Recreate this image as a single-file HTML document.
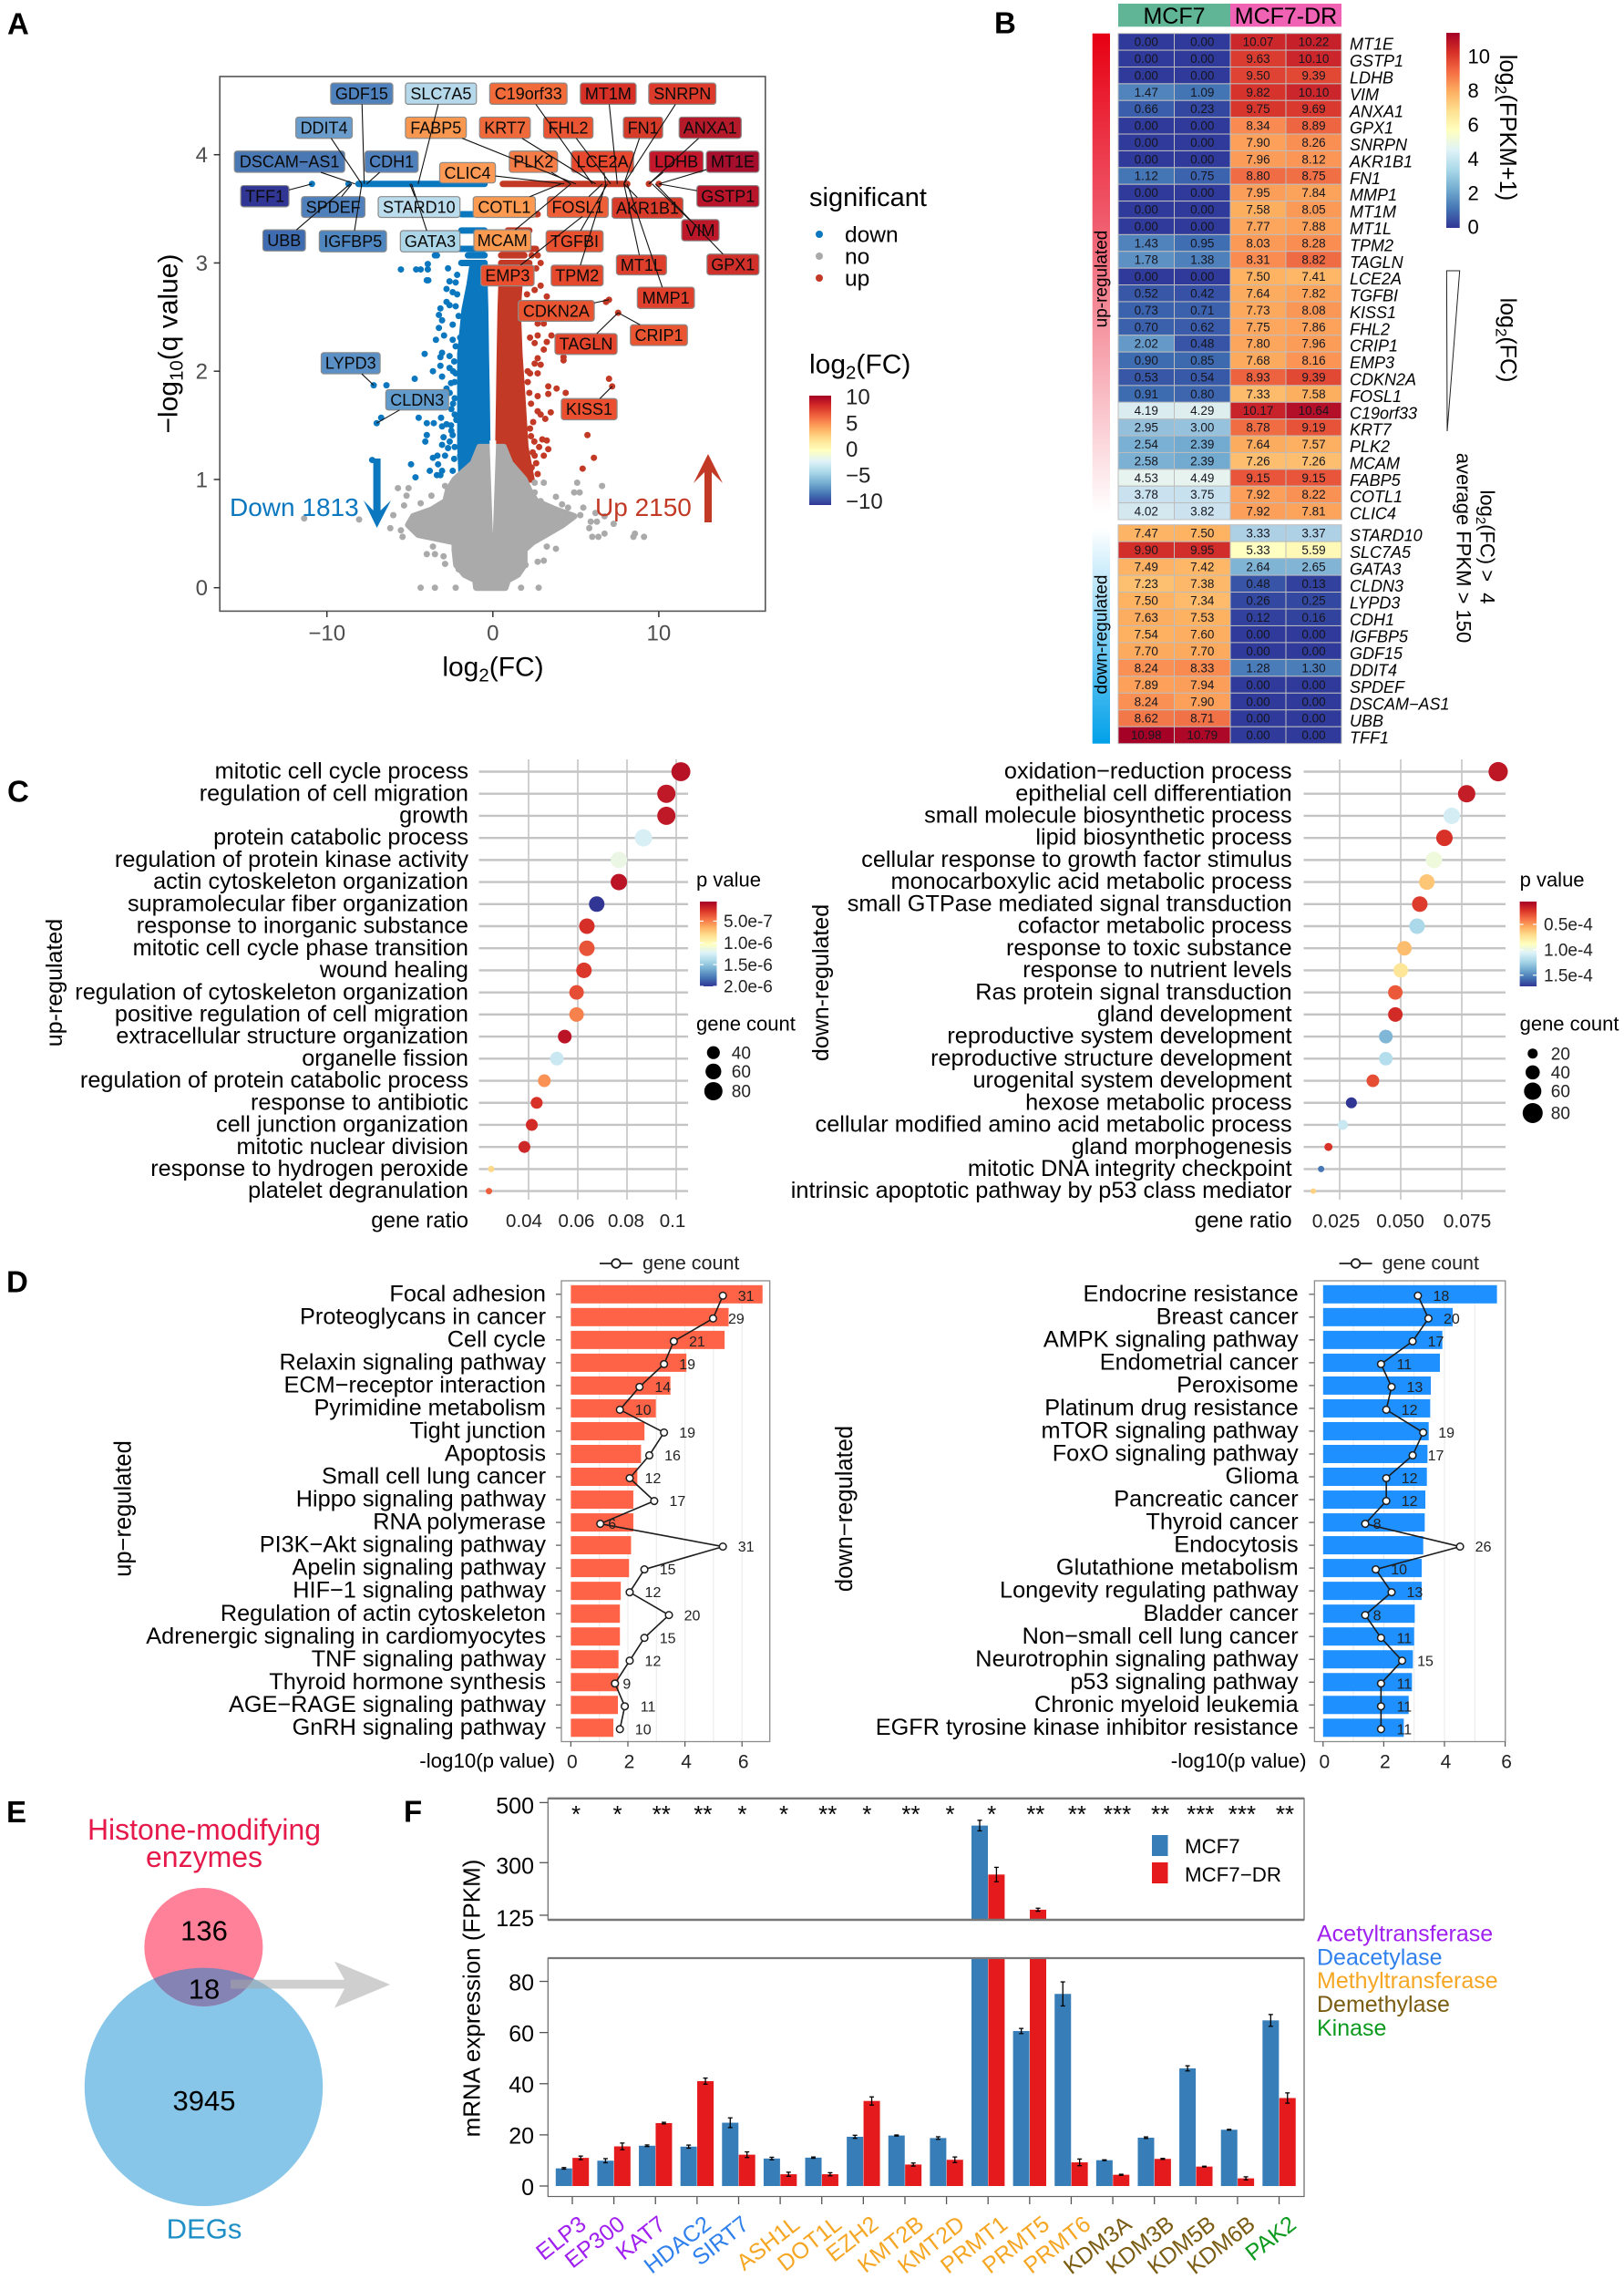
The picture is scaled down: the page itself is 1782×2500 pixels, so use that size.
<!DOCTYPE html>
<html lang="en">
<head>
<meta charset="utf-8">
<title>Multi-panel figure: MCF7 vs MCF7-DR differential expression</title>
<style>
html,body{margin:0;padding:0;background:#fff;}
svg{display:block;font-family:"Liberation Sans",Arial,sans-serif;}
</style>
</head>
<body>
<svg id="figure" xmlns="http://www.w3.org/2000/svg" width="1782" height="2500" viewBox="0 0 1782 2500">
  <rect x="0" y="0" width="1782" height="2500" fill="#fff"/>
  <defs>
    <linearGradient id="gradUp" x1="0" y1="0" x2="0" y2="1"><stop offset="0" stop-color="#e60012"/><stop offset="0.45" stop-color="#f1697a"/><stop offset="1" stop-color="#ffffff"/></linearGradient>
    <linearGradient id="gradDown" x1="0" y1="0" x2="0" y2="1"><stop offset="0" stop-color="#ffffff"/><stop offset="1" stop-color="#00a0e9"/></linearGradient>
    <clipPath id="pinkClip"><circle cx="223.4" cy="2136" r="65"/></clipPath>
  </defs>
  <g id="panelA"></g>
  <g id="panelB"></g>
  <g id="panelC"></g>
  <g id="panelD"></g>
  <g id="panelE">
    <text x="7" y="1999" font-size="33" font-weight="bold">E</text>
    <text x="224" y="2018" font-size="32" fill="#e6194b" text-anchor="middle">Histone-modifying</text>
    <text x="224" y="2048" font-size="32" fill="#e6194b" text-anchor="middle">enzymes</text>
    <circle cx="223.5" cy="2289.3" r="130.7" fill="#87c6e8"/>
    <circle cx="223.4" cy="2136" r="65" fill="#ff8099"/>
    <circle cx="223.5" cy="2289.3" r="130.7" fill="#8582b4" clip-path="url(#pinkClip)"/>
    <polygon points="253,2171.7 378,2171.7 367,2151.7 428,2177 367,2202.5 378,2181.5 253,2181.5" fill="#a8a8a8" fill-opacity="0.55"/>
    <text x="224" y="2128.5" font-size="31" text-anchor="middle">136</text>
    <text x="224" y="2192.5" font-size="31" text-anchor="middle">18</text>
    <text x="224" y="2315" font-size="31" text-anchor="middle">3945</text>
    <text x="224" y="2455.5" font-size="31" fill="#1e8fc6" text-anchor="middle">DEGs</text>
  </g>
  <g id="panelF"></g>
</svg>
<script>
/* ---------- Panel A data ---------- */
const volcanoXTicks = [-10, 0, 10];
const volcanoYTicks = [0, 1, 2, 3, 4];
const labelledGenes = ['GDF15','SLC7A5','C19orf33','MT1M','SNRPN','DDIT4','FABP5','KRT7','FHL2','FN1','ANXA1','DSCAM-AS1','CDH1','PLK2','LCE2A','LDHB','MT1E','TFF1','GSTP1','CLIC4','SPDEF','STARD10','COTL1','FOSL1','AKR1B1','VIM','UBB','IGFBP5','GATA3','MCAM','TGFBI','GPX1','MT1L','EMP3','TPM2','MMP1','CDKN2A','CRIP1','TAGLN','LYPD3','CLDN3','KISS1'];
const labelledFC = [-7.75,-4.5,6.0,7.5,7.9,-7.9,5.0,6.2,7.1,7.9,9.4,-8.3,-7.6,4.7,6.8,9.4,10,-10.9,10,4.3,-8.5,-5,4.1,6.6,7.9,9.6,-8.6,-7.9,-4.9,4.7,6.9,9.8,7.9,5.4,6.8,8.1,7.0,7.55,7.55,-7.18,-7.0,7.19];
const labelledQ = [3.73,3.73,3.73,3.73,3.73,3.73,3.73,3.73,3.73,3.73,3.73,3.73,3.73,3.73,3.73,3.73,3.73,3.73,3.73,3.73,3.73,3.73,3.73,3.73,3.73,3.73,3.73,3.73,3.73,3.73,3.73,3.73,3.73,3.43,3.73,3.73,2.66,2.54,2.54,1.87,1.52,1.86];
const labelColors = ['#4f81bd','#b5d9ea','#f26b3a','#d73027','#dc3a2a','#6a9ccc','#f89850','#f0693a','#e95532','#d63a28','#b51a2b','#4a78b5','#4f80bc','#f57c46','#e7482e','#c5172c','#a50e2c','#313695','#b8152b','#fd9a55','#4f80bc','#bbdcec','#fb9a50','#ee5f38','#d93b2a','#bc1829','#3f6cb0','#5086c0','#add5e8','#fa9950','#e85030','#d1302a','#dd3f2c','#ea5030','#e4492e','#e0412c','#ea5531','#ea5531','#e4462d','#5b90c6','#629ccd','#ea5030'];
const labelBoxLayout = [[522,620,188,236],[640,752,188,236],[773,895,188,236],[916,1004,188,236],[1024,1130,188,236],[467,556,265,313],[640,736,265,313],[757,837,265,313],[858,936,265,313],[984,1046,265,313],[1072,1170,265,313],[370,544,342,390],[576,660,342,390],[804,880,342,390],[902,1000,342,390],[1025,1110,342,390],[1115,1198,342,390],[380,456,420,468],[1100,1198,420,468],[694,782,368,414],[476,576,445,492],[597,726,445,492],[747,845,445,492],[864,960,445,492],[966,1078,447,494],[1076,1135,497,545],[415,482,520,568],[504,610,522,570],[632,726,522,570],[748,838,520,568],[862,952,522,570],[1116,1198,575,622],[973,1052,577,622],[759,843,600,647],[870,952,600,647],[1006,1096,650,698],[818,938,680,727],[995,1085,735,782],[876,974,755,802],[507,600,798,846],[609,708,882,928],[886,974,902,950]];
const downRowQ = [1.0,1.3,1.75,2.16,2.57,2.8,3.0];
const downRowLeft = [-1.87,-1.96,-1.96,-1.96,-1.7,-1.4,-1.2];
const downRowRight = [-0.33,-0.33,-0.37,-0.42,-0.46,-0.5,-0.5];
const upRowQ = [1.0,1.3,1.75,2.16,2.57,2.8,3.0];
const upRowLeft = [0.33,0.33,0.38,0.42,0.47,0.52,0.52];
const upRowRight = [2.33,1.96,1.78,1.6,1.5,1.6,1.5];
const noRowQ = [0,0.07,0.12,0.21,0.35,0.42,0.49,0.58,0.66,0.72,0.8,0.9,1.0,1.15,1.3];
const noRowLeft = [-1.0,-1.05,-1.7,-2.2,-2.3,-2.3,-4.5,-5.1,-4.8,-3.7,-2.85,-2.7,-2.3,-1.2,-0.8];
const noRowRight = [0.75,0.9,1.5,1.9,1.9,2.4,3.2,4.2,4.9,3.8,2.6,2.2,1.9,1.05,0.65];
const downBandQ = [3.73,3.45,3.3,3.13,3.07,3.0];
const downBandLeft = [-8.1,-1.9,-1.9,-2.0,-1.5,-1.9];
const downBandRight = [-0.5,-0.5,-0.5,-0.5,-0.5,-0.5];
const upBandQ = [3.73,3.45,3.3,3.13,3.07,3.0];
const upBandLeft = [0.6,0.9,0.9,0.5,0.5,0.5];
const upBandRight = [8.1,2.7,2.2,2.6,1.9,2.2];
const downPointFC = [-5.54,-4.62,-4.35,-3.92,-3.92,-3.98,-3.89,-3.37,-3.49,-2.7,-2.15,-2.24,-2.61,-2.79,-2.42,-2.15,-2.79,-3.16,-3.25,-2.61,-2.24,-2.06,-2.42,-3.06,-3.25,-2.94,-3.43,-2.42,-1.97,-2.24,-2.61,-3.06,-3.16,-4.11,-2.33,-3.16,-2.61,-3.61,-2.24,-4.71,-3.06,-2.52,-2.79,-6.41,-7.18,-6.73,-7.0,-4.47,-3.98,-3.56,-3.12,-2.79,-3.06,-2.52,-3.98,-4.07,-2.97,-2.42,-3.06,-2.7,-2.88,-3.34,-3.61,-2.33,-1.97,-3.3,-3.06,-3.37,-3.16,-3.8,-4.93,-4.66,-2.42,-1.97,-1.42,-1.87,-1.33,-0.87,-1.05,-7.27,-2.3,-2.4,-2.5,-2.6,-2.3,-2.2,-2.5,-2.6,-2.3,-2.4,-2.3,-10.9,-8.7];
const downPointQ = [2.94,2.94,2.94,2.99,2.94,2.84,2.84,3.07,3.07,2.95,2.89,2.82,2.83,2.76,2.73,2.71,2.64,2.58,2.52,2.61,2.6,2.51,2.43,2.47,2.4,2.33,2.29,2.29,2.31,2.23,2.14,2.17,2.13,2.16,2.09,2.05,2.03,2.0,1.98,1.93,1.95,1.89,1.84,1.87,1.87,1.57,1.52,1.57,1.52,1.52,1.57,1.51,1.49,1.5,1.41,1.35,1.39,1.41,1.32,1.29,1.22,1.22,1.2,1.19,1.22,1.14,1.08,1.04,1.04,1.08,1.14,1.02,1.08,1.02,1.02,1.13,1.11,1.04,1.19,1.18,1.75,1.7,1.65,1.8,1.6,1.55,1.45,1.35,1.3,2.0,1.9,3.73,3.73];
const upPointFC = [2.7,2.34,2.88,2.61,2.88,2.52,3.25,2.06,7.0,6.82,7.55,2.7,3.07,3.53,2.7,2.52,3.25,3.07,2.24,2.7,2.88,2.52,4.26,4.26,2.24,2.7,7.0,7.19,3.34,3.84,4.39,3.34,2.7,2.7,3.49,3.16,2.88,2.43,2.24,2.98,3.25,2.79,3.34,3.07,2.52,2.61,2.34,2.7,2.24,1.7,1.05,1.6,5.7,6.09,5.41,2.1,2.2,2.3,2.1,2.3,2.5,2.4,9.4,10];
const upPointQ = [3.07,3.07,3.0,2.95,2.79,2.75,2.69,2.71,2.66,2.64,2.54,2.44,2.44,2.33,2.33,2.26,2.27,2.2,2.31,2.12,2.06,2.07,2.1,2.13,1.98,1.98,1.93,1.86,1.86,1.84,1.8,1.79,1.77,1.63,1.62,1.56,1.6,1.53,1.47,1.37,1.36,1.3,1.28,1.22,1.22,1.15,1.11,1.05,1.02,0.99,1.02,1.08,1.41,1.2,1.1,1.9,1.8,1.7,2.0,1.4,1.35,1.25,3.73,3.73];
const noPointFC = [-4.35,-3.49,-2.24,1.7,2.76,-5.72,-5.08,-5.2,-3.7,-2.88,-4.35,-5.35,-6,-8.06,-6.18,-5.54,-5.44,-3.61,-3.98,-3.49,-2.97,-2.88,-2.06,1.97,2.7,3.07,3.25,3.8,2.52,3.07,2.52,3.8,2.88,5.08,4.9,5.23,6.58,5.45,6.18,6.73,5.9,6.27,7.28,5.81,6.73,6.36,5.99,8.56,9.11,8.47,5.27,4.53,4.17,-11.37];
const noPointQ = [0,0,0,0,0,0.92,0.92,0.85,0.85,0.94,0.78,0.76,0.67,0.63,0.55,0.53,0.47,0.38,0.31,0.31,0.29,0.22,0.17,0.21,0.24,0.25,0.38,0.36,0.97,0.97,0.88,0.84,0.8,0.97,0.88,0.88,0.94,0.74,0.69,0.66,0.61,0.61,0.59,0.55,0.5,0.47,0.47,0.5,0.47,0.47,0.67,0.74,0.77,0.64];
const sigLegendNames = ['down','no','up'];
const fcBarTicks = [10,5,0,-5,-10];

/* ---------- Panel B data ---------- */
const heatUpGenes = ['MT1E','GSTP1','LDHB','VIM','ANXA1','GPX1','SNRPN','AKR1B1','FN1','MMP1','MT1M','MT1L','TPM2','TAGLN','LCE2A','TGFBI','KISS1','FHL2','CRIP1','EMP3','CDKN2A','FOSL1','C19orf33','KRT7','PLK2','MCAM','FABP5','COTL1','CLIC4'];
const heatUpMcf7A = [0,0,0,1.47,0.66,0,0,0,1.12,0,0,0,1.43,1.78,0,0.52,0.73,0.70,2.02,0.90,0.53,0.91,4.19,2.95,2.54,2.58,4.53,3.78,4.02];
const heatUpMcf7B = [0,0,0,1.09,0.23,0,0,0,0.75,0,0,0,0.95,1.38,0,0.42,0.71,0.62,0.48,0.85,0.54,0.80,4.29,3.00,2.39,2.39,4.49,3.75,3.82];
const heatUpDrA = [10.07,9.63,9.50,9.82,9.75,8.34,7.90,7.96,8.80,7.95,7.58,7.77,8.03,8.31,7.50,7.64,7.73,7.75,7.80,7.68,8.93,7.33,10.17,8.78,7.64,7.26,9.15,7.92,7.92];
const heatUpDrB = [10.22,10.10,9.39,10.10,9.69,8.89,8.26,8.12,8.75,7.84,8.05,7.88,8.28,8.82,7.41,7.82,8.08,7.86,7.96,8.16,9.39,7.58,10.64,9.19,7.57,7.26,9.15,8.22,7.81];
const heatDownGenes = ['STARD10','SLC7A5','GATA3','CLDN3','LYPD3','CDH1','IGFBP5','GDF15','DDIT4','SPDEF','DSCAM\u2212AS1','UBB','TFF1'];
const heatDownMcf7A = [7.47,9.90,7.49,7.23,7.50,7.63,7.54,7.70,8.24,7.89,8.24,8.62,10.98];
const heatDownMcf7B = [7.50,9.95,7.42,7.38,7.34,7.53,7.60,7.70,8.33,7.94,7.90,8.71,10.79];
const heatDownDrA = [3.33,5.33,2.64,0.48,0.26,0.12,0,0,1.28,0,0,0,0];
const heatDownDrB = [3.37,5.59,2.65,0.13,0.25,0.16,0,0,1.30,0,0,0,0];
const heatBarTicks = [10,8,6,4,2,0];

/* ---------- Panel C data ---------- */
const goUpTerms = ['mitotic cell cycle process','regulation of cell migration','growth','protein catabolic process','regulation of protein kinase activity','actin cytoskeleton organization','supramolecular fiber organization','response to inorganic substance','mitotic cell cycle phase transition','wound healing','regulation of cytoskeleton organization','positive regulation of cell migration','extracellular structure organization','organelle fission','regulation of protein catabolic process','response to antibiotic','cell junction organization','mitotic nuclear division','response to hydrogen peroxide','platelet degranulation'];
const goUpRatio = [0.1019,0.096,0.096,0.0867,0.0767,0.0767,0.0677,0.0637,0.0637,0.0625,0.0595,0.0595,0.0547,0.0515,0.0464,0.0433,0.0413,0.0383,0.0248,0.0239];
const goUpCount = [87,80,80,72,65,65,58,58,58,58,51,51,45,45,39,34,34,34,10,10];
const goUpP = [1.2e-7,1.5e-7,1.5e-7,1.25e-6,1.15e-6,1.3e-7,2.0e-6,2.4e-7,3.6e-7,2.7e-7,3.4e-7,5e-7,1.3e-7,1.3e-6,5.5e-7,2.5e-7,2.2e-7,2.1e-7,8e-7,4e-7];
const goUpTickValues = [0.04,0.06,0.08,0.1];
const goUpTickLabels = ['0.04','0.06','0.08','0.1'];
const goUpColorTicks = ['5.0e-7','1.0e-6','1.5e-6','2.0e-6'];
const goUpColorTickValues = [5e-7,1e-6,1.5e-6,2e-6];
const goUpSizeLegend = [40,60,80];
const goDownTerms = ['oxidation\u2212reduction process','epithelial cell differentiation','small molecule biosynthetic process','lipid biosynthetic process','cellular response to growth factor stimulus','monocarboxylic acid metabolic process','small GTPase mediated signal transduction','cofactor metabolic process','response to toxic substance','response to nutrient levels','Ras protein signal transduction','gland development','reproductive system development','reproductive structure development','urogenital system development','hexose metabolic process','cellular modified amino acid metabolic process','gland morphogenesis','mitotic DNA integrity checkpoint','intrinsic apoptotic pathway by p53 class mediator'];
const goDownRatio = [0.0899,0.0770,0.0709,0.0679,0.0636,0.0607,0.0578,0.0567,0.0515,0.05,0.0478,0.0478,0.0439,0.0439,0.0386,0.0298,0.0263,0.0204,0.0174,0.0142];
const goDownCount = [74,60,54,54,54,48,48,48,42,42,42,42,37,37,32,24,20,13,8,6];
const goDownP = [1.3e-5,1.5e-5,1.09e-4,2.2e-5,9.7e-5,6.3e-5,2.5e-5,1.22e-4,6e-5,7.5e-5,3.3e-5,2e-5,1.35e-4,1.19e-4,3e-5,1.72e-4,1.12e-4,2.2e-5,1.55e-4,6.7e-5];
const goDownTickValues = [0.025,0.05,0.075];
const goDownTickLabels = ['0.025','0.050','0.075'];
const goDownColorTicks = ['0.5e-4','1.0e-4','1.5e-4'];
const goDownColorTickValues = [5e-5,1e-4,1.5e-4];
const goDownSizeLegend = [20,40,60,80];

/* ---------- Panel D data ---------- */
const keggUpTerms = ['Focal adhesion','Proteoglycans in cancer','Cell cycle','Relaxin signaling pathway','ECM\u2212receptor interaction','Pyrimidine metabolism','Tight junction','Apoptosis','Small cell lung cancer','Hippo signaling pathway','RNA polymerase','PI3K\u2212Akt signaling pathway','Apelin signaling pathway','HIF\u22121 signaling pathway','Regulation of actin cytoskeleton','Adrenergic signaling in cardiomyocytes','TNF signaling pathway','Thyroid hormone synthesis','AGE\u2212RAGE signaling pathway','GnRH signaling pathway'];
const keggUpValues = [6.72,5.53,5.39,4.05,3.49,2.98,2.58,2.46,2.33,2.19,2.19,2.11,2.04,1.75,1.72,1.72,1.67,1.67,1.65,1.49];
const keggUpCounts = [31,29,21,19,14,10,19,16,12,17,6,31,15,12,20,15,12,9,11,10];
const keggDownTerms = ['Endocrine resistance','Breast cancer','AMPK signaling pathway','Endometrial cancer','Peroxisome','Platinum drug resistance','mTOR signaling pathway','FoxO signaling pathway','Glioma','Pancreatic cancer','Thyroid cancer','Endocytosis','Glutathione metabolism','Longevity regulating pathway','Bladder cancer','Non\u2212small cell lung cancer','Neurotrophin signaling pathway','p53 signaling pathway','Chronic myeloid leukemia','EGFR tyrosine kinase inhibitor resistance'];
const keggDownValues = [5.73,4.27,3.93,3.85,3.55,3.53,3.48,3.44,3.42,3.37,3.35,3.3,3.25,3.25,3.02,3.0,2.96,2.93,2.82,2.66];
const keggDownCounts = [18,20,17,11,13,12,19,17,12,12,8,26,10,13,8,11,15,11,11,11];
const keggTicks = [0,2,4,6];

/* ---------- Panel F data ---------- */
const enzymeGenes = ['ELP3','EP300','KAT7','HDAC2','SIRT7','ASH1L','DOT1L','EZH2','KMT2B','KMT2D','PRMT1','PRMT5','PRMT6','KDM3A','KDM3B','KDM5B','KDM6B','PAK2'];
const enzymeClass = [0,0,0,1,1,2,2,2,2,2,2,2,2,3,3,3,3,4];
const enzymeMcf7 = [6.9,9.9,15.75,15.4,24.75,10.75,11.1,19.25,19.75,18.75,423.5,60.6,75.1,10.1,18.9,46,22,64.75];
const enzymeDr = [11,15.5,24.6,41,12.25,4.6,4.6,33.25,8.4,10.25,260.5,143.4,9.25,4.4,10.6,7.6,3,34.4];
const enzymeMcf7Err = [0.3,0.8,0.3,0.6,1.9,0.5,0.25,0.6,0.2,0.5,17.6,1.0,4.7,0.15,0.3,1.0,0.15,2.3];
const enzymeDrErr = [0.7,1.3,0.3,1.2,1.1,0.8,0.6,1.6,0.6,1.1,24,5,1.3,0.2,0.2,0.15,0.6,2];
const enzymeStars = ['*','*','**','**','*','*','**','*','**','*','*','**','**','***','**','***','***','**'];
const enzymeLowerTicks = [0,20,40,60,80];
const enzymeUpperTicks = [125,300,500];
const classNames = ['Acetyltransferase','Deacetylase','Methyltransferase','Demethylase','Kinase'];
const classColors = ['#a020f0','#2f80ed','#f5a623','#7a5c12','#0c9a1e'];
const enzymeLabelNudge = [11.5,8.4,7.4,11.7,7.6,17.6,18,12.7,17,16.3,17.7,18,17.7,17,18,17.7,15.6,15];

/* ---------- helpers ---------- */
const NS = 'http://www.w3.org/2000/svg';
const svg = document.getElementById('figure');
function make(tag, attrs, name, parent) {
  const node = document.createElementNS(NS, tag);
  for (const key in attrs) node.setAttribute(key, attrs[key]);
  
  
  parent.appendChild(node);
  return node;
}
function label(parent, name, str, x, y, size, opts) {
  const o = opts || {};
  const v = o.v === undefined ? 0.35 : o.v;
  const attrs = {x: x, y: y + size * v, 'font-size': size, fill: o.fill || '#000', 'text-anchor': o.anchor || 'start'};
  if (o.weight) attrs['font-weight'] = o.weight;
  if (o.italic) attrs['font-style'] = 'italic';
  if (o.rotate !== undefined) attrs.transform = 'rotate(' + o.rotate + ' ' + x + ' ' + y + ')';
  const node = make('text', attrs, name, parent);
  node.textContent = str;
  return node;
}
function subLabel(parent, name, a, sub, b, x, y, size, opts) {
  const o = opts || {};
  const node = label(parent, name, '', x, y, size, o);
  const t1 = document.createElementNS(NS, 'tspan'); t1.textContent = a;
  const t2 = document.createElementNS(NS, 'tspan'); t2.textContent = sub;
  t2.setAttribute('font-size', size * 0.68); t2.setAttribute('dy', size * 0.2);
  const t3 = document.createElementNS(NS, 'tspan'); t3.textContent = b;
  t3.setAttribute('dy', -size * 0.2);
  node.appendChild(t1); node.appendChild(t2); node.appendChild(t3);
  return node;
}
function line(parent, name, x1, y1, x2, y2, color, w) {
  return make('line', {x1: x1, y1: y1, x2: x2, y2: y2, stroke: color, 'stroke-width': w}, name, parent);
}
const divergingStops = ['#a50026','#d73027','#f46d43','#fdae61','#fee090','#ffffbf','#e0f3f8','#abd9e9','#74add1','#4575b4','#313695'];
function hexToRgb(h) { return [parseInt(h.slice(1,3),16), parseInt(h.slice(3,5),16), parseInt(h.slice(5,7),16)]; }
function mix(a, b, t) { const A = hexToRgb(a), B = hexToRgb(b); return 'rgb(' + A.map((c, i) => Math.round(c + (B[i] - c) * t)).join(',') + ')'; }
function diverging(t) {
  const c = Math.max(0, Math.min(1, t)) * 10;
  const i = Math.min(9, Math.floor(c));
  return mix(divergingStops[i], divergingStops[i + 1], c - i);
}
function addGradient(id, stops) {
  const defs = svg.querySelector('defs');
  const g = document.createElementNS(NS, 'linearGradient');
  g.setAttribute('id', id);
  g.setAttribute('x1', '0'); g.setAttribute('y1', '0'); g.setAttribute('x2', '0'); g.setAttribute('y2', '1');
  stops.forEach((c, i) => {
    const s = document.createElementNS(NS, 'stop');
    s.setAttribute('offset', i / (stops.length - 1));
    s.setAttribute('stop-color', c);
    g.appendChild(s);
  });
  defs.appendChild(g);
}
addGradient('gradDiverging', divergingStops);
function hexEnvelope(parent, name, qs, lefts, rights, fx, fy, color) {
  const pts = [];
  qs.forEach((q, i) => pts.push(fx(lefts[i]) + ',' + fy(q)));
  for (let i = qs.length - 1; i >= 0; i--) pts.push(fx(rights[i]) + ',' + fy(qs[i]));
  return make('polygon', {points: pts.join(' '), fill: color, stroke: color, 'stroke-width': 7, 'stroke-linejoin': 'round'}, name, parent);
}

/* ---------- Panel A ---------- */
(function () {
  const g = document.getElementById('panelA');
  const vx = v => 540.8 + 18.21 * v;
  const vy = q => 644.7 - 118.75 * q;
  const BLUE = '#0b77bf', RED = '#c23a26', GREY = '#aaaaaa';
  label(g, 'panel-letter-a', 'A', 8, 26, 33, {weight: 'bold'});
  hexEnvelope(g, 'down-points-dense', downRowQ, downRowLeft, downRowRight, vx, vy, BLUE);
  hexEnvelope(g, 'up-points-dense', upRowQ, upRowLeft, upRowRight, vx, vy, RED);
  downBandQ.forEach((q, i) => {
    const n = make('line', {x1: vx(downBandLeft[i]), y1: vy(q), x2: vx(downBandRight[i]), y2: vy(q), stroke: BLUE, 'stroke-width': 7, 'stroke-linecap': 'round'}, 'down-points-band', g);
    n.setAttribute('data-q', q);
  });
  upBandQ.forEach((q, i) => {
    const n = make('line', {x1: vx(upBandLeft[i]), y1: vy(q), x2: vx(upBandRight[i]), y2: vy(q), stroke: RED, 'stroke-width': 7, 'stroke-linecap': 'round'}, 'up-points-band', g);
    n.setAttribute('data-q', q);
  });
  downPointFC.forEach((fc, i) => make('circle', {cx: vx(fc), cy: vy(downPointQ[i]), r: 3.5, fill: BLUE}, 'down-point', g));
  upPointFC.forEach((fc, i) => make('circle', {cx: vx(fc), cy: vy(upPointQ[i]), r: 3.5, fill: RED}, 'up-point', g));
  hexEnvelope(g, 'not-significant-points-dense', noRowQ, noRowLeft, noRowRight, vx, vy, GREY);
  noPointFC.forEach((fc, i) => make('circle', {cx: vx(fc), cy: vy(noPointQ[i]), r: 3.5, fill: GREY}, 'not-significant-point', g));
  make('polygon', {points: vx(-0.2) + ',' + vy(1.36) + ' ' + vx(0.2) + ',' + vy(1.36) + ' ' + vx(0) + ',' + vy(0.5), fill: '#fff'}, 'volcano-center-gap', g);

  make('rect', {x: 241.2, y: 83.9, width: 598.6, height: 586.5, fill: 'none', stroke: '#555', 'stroke-width': 1.6}, 'volcano-frame', g);
  volcanoXTicks.forEach(t => {
    line(g, 'x-axis-tick', vx(t), 670.4, vx(t), 677, '#333', 1.5);
    label(g, 'x-tick-label', t < 0 ? '\u2212' + Math.abs(t) : String(t), vx(t), 694, 24, {anchor: 'middle', fill: '#4d4d4d'});
  });
  volcanoYTicks.forEach(t => {
    line(g, 'y-axis-tick', 234.6, vy(t), 241.2, vy(t), '#333', 1.5);
    label(g, 'y-tick-label', String(t), 228, vy(t), 24, {anchor: 'end', fill: '#4d4d4d'});
  });
  subLabel(g, 'x-axis-title', 'log', '2', '(FC)', 541, 731, 30, {anchor: 'middle'});
  subLabel(g, 'y-axis-title', '\u2212log', '10', '(q value)', 184, 377, 30, {anchor: 'middle', rotate: -90});

  /* gene labels */
  const cx = v => v / 1.4385, cy = v => v / 2.063;
  const boxes = labelBoxLayout.map(b => ({x0: cx(b[0]), x1: cx(b[1]), y0: cy(b[2]), y1: cy(b[3])}));
  boxes.forEach((b, i) => {
    make('rect', {x: b.x0, y: b.y0, width: b.x1 - b.x0, height: b.y1 - b.y0, rx: 3, fill: labelColors[i], stroke: '#8a8a8a', 'stroke-width': 1.2}, 'gene-label-box-' + labelledGenes[i].toLowerCase(), g);
  });
  boxes.forEach((b, i) => {
    const tx = vx(labelledFC[i]), ty = vy(labelledQ[i]);
    const mx = (b.x0 + b.x1) / 2, my = (b.y0 + b.y1) / 2;
    const dx = tx - mx, dy = ty - my;
    const s = Math.min(dx === 0 ? 9 : ((b.x1 - b.x0) / 2) / Math.abs(dx), dy === 0 ? 9 : ((b.y1 - b.y0) / 2) / Math.abs(dy));
    line(g, 'gene-label-connector', mx + dx * s, my + dy * s, tx, ty, '#111', 1.1);
  });
  boxes.forEach((b, i) => {
    label(g, 'gene-label', labelledGenes[i].replace('-', '\u2212'), (b.x0 + b.x1) / 2, (b.y0 + b.y1) / 2, 18, {anchor: 'middle', fill: '#0a0a0a'});
  });

  /* direction arrows */
  label(g, 'down-count-label', 'Down 1813', 252, 556, 28, {fill: BLUE});
  label(g, 'up-count-label', 'Up 2150', 653, 556, 28, {fill: RED});
  make('polygon', {points: '409.6,503 417.6,503 417.6,560 429,549 413.6,579 399,549 409.6,560', fill: BLUE}, 'down-arrow', g);
  make('polygon', {points: '773,573 781,573 781,518 793,530 777,498 761,530 773,518', fill: RED}, 'up-arrow', g);

  /* legends */
  label(g, 'significant-legend-title', 'significant', 888, 216, 29);
  const sigColors = [BLUE, GREY, RED];
  sigLegendNames.forEach((n, i) => {
    make('circle', {cx: 899, cy: 257 + i * 24, r: 4, fill: sigColors[i]}, 'significant-legend-dot-' + n, g);
    label(g, 'significant-legend-label-' + n, n, 927, 257 + i * 24, 24.5, {});
  });
  subLabel(g, 'fc-legend-title', 'log', '2', '(FC)', 888, 399, 30, {});
  make('rect', {x: 888, y: 434, width: 24, height: 120, fill: 'url(#gradDiverging)'}, 'fc-colorbar', g);
  fcBarTicks.forEach((t, i) => {
    label(g, 'fc-colorbar-label', t < 0 ? '\u2212' + Math.abs(t) : String(t), 928, 492.5 - t * 5.72, 24, {fill: '#222'});
  });
})();

/* ---------- Panel B ---------- */
const heatScaleValues = [0,1,2.5,3.8,4.6,5.35,6.5,7.5,8.3,9.15,9.85,10.3,10.98];
const heatScaleColors = ['#2f3a9a','#4071b3','#77aed2','#cbe3ef','#eaf5ee','#ffffbf','#fee29a','#fdb362','#fa8d52','#e8553a','#d4312b','#c31e2b','#a50026'];
function heatColor(v) {
  for (let i = 0; i < heatScaleValues.length - 1; i++) {
    if (v <= heatScaleValues[i + 1]) {
      return mix(heatScaleColors[i], heatScaleColors[i + 1], (v - heatScaleValues[i]) / (heatScaleValues[i + 1] - heatScaleValues[i]));
    }
  }
  return heatScaleColors[heatScaleColors.length - 1];
}
(function () {
  const g = document.getElementById('panelB');
  label(g, 'panel-letter-b', 'B', 1091, 25, 33, {weight: 'bold'});
  make('rect', {x: 1227, y: 4, width: 123, height: 25.3, fill: '#5fb595'}, 'group-header-mcf7', g);
  make('rect', {x: 1350, y: 4, width: 122, height: 25.3, fill: '#ef62b4'}, 'group-header-mcf7-dr', g);
  label(g, 'group-header-text-mcf7', 'MCF7', 1288.5, 17, 25, {anchor: 'middle'});
  label(g, 'group-header-text-mcf7-dr', 'MCF7-DR', 1411, 17, 25, {anchor: 'middle'});
  const colX = [1227, 1288.5, 1350, 1411, 1472];
  function drawBlock(genes, cols, top, rowH, prefix) {
    genes.forEach((gene, r) => {
      cols.forEach((col, c) => {
        make('rect', {x: colX[c], y: top + r * rowH, width: colX[c + 1] - colX[c], height: rowH, fill: heatColor(col[r]), stroke: '#bdbdbd', 'stroke-width': 1}, prefix + '-cell', g);
      });
    });
    genes.forEach((gene, r) => {
      cols.forEach((col, c) => {
        label(g, prefix + '-cell-value', col[r].toFixed(2), (colX[c] + colX[c + 1]) / 2, top + (r + 0.5) * rowH, 13.5, {anchor: 'middle', fill: '#16161f'});
      });
      label(g, prefix + '-gene-label', gene, 1481, top + (r + 0.5) * rowH + 2.5, 18, {italic: true});
    });
  }
  drawBlock(heatUpGenes, [heatUpMcf7A, heatUpMcf7B, heatUpDrA, heatUpDrB], 36.7, 18.39, 'up-heatmap');
  drawBlock(heatDownGenes, [heatDownMcf7A, heatDownMcf7B, heatDownDrA, heatDownDrB], 575.7, 18.46, 'down-heatmap');
  make('rect', {x: 1198.7, y: 36.7, width: 19.3, height: 526, fill: 'url(#gradUp)'}, 'up-regulated-bar', g);
  make('rect', {x: 1198.7, y: 580, width: 19.3, height: 235.7, fill: 'url(#gradDown)'}, 'down-regulated-bar', g);
  label(g, 'up-regulated-label', 'up-regulated', 1208, 306, 19, {anchor: 'middle', rotate: -90});
  label(g, 'down-regulated-label', 'down-regulated', 1208, 696, 19, {anchor: 'middle', rotate: -90});
  make('rect', {x: 1587, y: 36, width: 14.7, height: 214, fill: 'url(#gradDiverging)'}, 'fpkm-colorbar', g);
  heatBarTicks.forEach(t => {
    label(g, 'fpkm-colorbar-label', String(t), 1610.5, 249 - t * 18.7, 22, {});
  });
  subLabel(g, 'fpkm-colorbar-title', 'log', '2', '(FPKM+1)', 1655, 140, 25.5, {anchor: 'middle', rotate: 90});
  make('polygon', {points: '1587.4,297 1601.7,297 1588,473', fill: '#fff', stroke: '#222', 'stroke-width': 1}, 'fc-wedge', g);
  subLabel(g, 'fc-wedge-title', 'log', '2', '(FC)', 1655, 373, 25, {anchor: 'middle', rotate: 90});
  subLabel(g, 'threshold-fc-label', 'log', '2', '(FC)\u00a0>\u00a0\u00a04', 1632, 600, 22, {anchor: 'middle', rotate: 90});
  label(g, 'threshold-fpkm-label', 'average FPKM > 150', 1606, 601, 22, {anchor: 'middle', rotate: 90});
})();

/* ---------- Panel C ---------- */
function drawDotPanel(cfg) {
  const g = document.getElementById('panelC');
  const rowY = i => 846.5 + i * 24.216;
  const px = cfg.px;
  cfg.ticks.forEach(t => line(g, cfg.id + '-gridline', px(t), 833, px(t), 1316, '#c4c4c4', 1.6));
  cfg.terms.forEach((term, i) => {
    line(g, cfg.id + '-row-line', cfg.lineX0, rowY(i), cfg.lineX1, rowY(i), '#c4c4c4', 2.4);
    label(g, cfg.id + '-term-label', term, cfg.labelX, rowY(i), 25.3, {anchor: 'end', v: 0.3});
  });
  cfg.terms.forEach((term, i) => {
    make('circle', {cx: px(cfg.ratio[i]), cy: rowY(i), r: cfg.size(cfg.count[i]), fill: diverging(cfg.colorT(cfg.p[i]))}, cfg.id + '-dot', g);
  });
  cfg.tickLabels.forEach((t, i) => label(g, cfg.id + '-x-tick-label', t, cfg.tickLabelX[i], 1339, cfg.tickFont, {anchor: 'middle', fill: '#222'}));
  label(g, cfg.id + '-x-title', 'gene ratio', cfg.labelX, 1338, 24, {anchor: 'end'});
  label(g, cfg.id + '-y-title', cfg.side, cfg.sideX, 1078, 25, {anchor: 'middle', rotate: -90});
  label(g, cfg.id + '-color-legend-title', 'p value', cfg.legendX, 965, 22);
  make('rect', {x: cfg.legendX + cfg.barOffset, y: 989, width: 18.5, height: 93, fill: 'url(#gradDiverging)'}, cfg.id + '-colorbar', g);
  cfg.colorTickValues.forEach((v, i) => {
    const y = 989 + cfg.colorT(v) * 93;
    line(g, cfg.id + '-colorbar-tick', cfg.legendX + cfg.barOffset, y, cfg.legendX + cfg.barOffset + 4, y, '#fff', 1.2);
    line(g, cfg.id + '-colorbar-tick', cfg.legendX + cfg.barOffset + 14.5, y, cfg.legendX + cfg.barOffset + 18.5, y, '#fff', 1.2);
    label(g, cfg.id + '-colorbar-label', cfg.colorTicks[i], cfg.colorLabelX, y, 19, {fill: '#222'});
  });
  label(g, cfg.id + '-size-legend-title', 'gene count', cfg.legendX, 1123, 22);
  cfg.sizeLegend.forEach((c, i) => {
    const y = cfg.sizeY[i];
    make('circle', {cx: cfg.sizeDotX, cy: y, r: cfg.size(c), fill: '#000'}, cfg.id + '-size-legend-dot', g);
    label(g, cfg.id + '-size-legend-label', String(c), cfg.sizeDotX + 20, y, 19, {fill: '#222'});
  });
}
label(document.getElementById('panelC'), 'panel-letter-c', 'C', 8, 868, 33, {weight: 'bold'});
drawDotPanel({
  id: 'go-up', terms: goUpTerms, ratio: goUpRatio, count: goUpCount, p: goUpP,
  px: v => 580 + (v - 0.04) * 2700, ticks: goUpTickValues, tickLabels: goUpTickLabels, tickLabelX: [575, 632.5, 687, 738], tickFont: 20.5,
  lineX0: 525.5, lineX1: 755, labelX: 514, side: 'up-regulated', sideX: 59,
  size: c => 10 * Math.sqrt(c / 80), colorT: p => (p - 5e-8) / 1.95e-6,
  legendX: 764, barOffset: 4, colorLabelX: 794, colorTicks: goUpColorTicks, colorTickValues: goUpColorTickValues,
  sizeLegend: goUpSizeLegend, sizeY: [1154.7, 1175.4, 1197], sizeDotX: 782.8
});
drawDotPanel({
  id: 'go-down', terms: goDownTerms, ratio: goDownRatio, count: goDownCount, p: goDownP,
  px: v => 1470 + (v - 0.025) * 2680, ticks: goDownTickValues, tickLabels: goDownTickLabels, tickLabelX: [1466, 1536.5, 1610], tickFont: 21,
  lineX0: 1430.5, lineX1: 1652, labelX: 1417.6, side: 'down-regulated', sideX: 900,
  size: c => 11 * Math.sqrt(c / 80), colorT: p => (p - 5e-6) / 1.67e-4,
  legendX: 1667.6, barOffset: 0, colorLabelX: 1694, colorTicks: goDownColorTicks, colorTickValues: goDownColorTickValues,
  sizeLegend: goDownSizeLegend, sizeY: [1155.7, 1176.4, 1197, 1221], sizeDotX: 1681.8
});

/* ---------- Panel D ---------- */
function drawBarPanel(cfg) {
  const g = document.getElementById('panelD');
  const rowY = i => 1419.8 + i * 25.026;
  const px = v => cfg.zero + cfg.perUnit * v;
  const cntX = c => cfg.zero + cfg.perCount * c;
  for (let t = 1; t <= 6; t++) line(g, cfg.id + '-gridline', px(t), 1405, px(t), 1910.5, '#ececec', 1.2);
  cfg.values.forEach((v, i) => {
    make('rect', {x: cfg.zero, y: rowY(i) - 10, width: px(v) - cfg.zero, height: 20, fill: cfg.color}, cfg.id + '-bar', g);
    line(g, cfg.id + '-y-tick', cfg.frameX0 - 6, rowY(i), cfg.frameX0, rowY(i), '#555', 1.2);
    label(g, cfg.id + '-term-label', cfg.terms[i], cfg.labelX, rowY(i), 25.3, {anchor: 'end', v: 0.3});
  });
  make('rect', {x: cfg.frameX0, y: 1405, width: cfg.frameX1 - cfg.frameX0, height: 505.5, fill: 'none', stroke: '#8c8c8c', 'stroke-width': 1.3}, cfg.id + '-frame', g);
  const pts = cfg.counts.map((c, i) => cntX(c) + ',' + (rowY(i) + 1.5)).join(' ');
  make('polyline', {points: pts, fill: 'none', stroke: '#1c1c1c', 'stroke-width': 1.6}, cfg.id + '-gene-count-line', g);
  cfg.counts.forEach((c, i) => {
    make('circle', {cx: cntX(c), cy: rowY(i) + 1.5, r: 3.8, fill: '#fff', stroke: '#1c1c1c', 'stroke-width': 1.5}, cfg.id + '-gene-count-marker', g);
    label(g, cfg.id + '-gene-count-label', String(c), cntX(c) + (c < 10 ? 13 : 25.5), rowY(i) + 1.5, 16, {anchor: 'middle', fill: '#222'});
  });
  keggTicks.forEach(t => {
    line(g, cfg.id + '-x-tick', px(t), 1910.5, px(t), 1916, '#555', 1.2);
    label(g, cfg.id + '-x-tick-label', String(t), px(t) + 1.5, 1932, 21, {anchor: 'middle', fill: '#222'});
  });
  label(g, cfg.id + '-x-title', '-log10(p value)', cfg.titleX, 1931, 22.3, {anchor: 'end'});
  label(g, cfg.id + '-y-title', cfg.side, cfg.sideX, 1655, 25.5, {anchor: 'middle', rotate: -90});
  line(g, cfg.id + '-legend-line', cfg.legendX - 18, 1386, cfg.legendX + 18, 1386, '#1c1c1c', 1.8);
  make('circle', {cx: cfg.legendX, cy: 1386, r: 4.8, fill: '#fff', stroke: '#1c1c1c', 'stroke-width': 1.8}, cfg.id + '-legend-marker', g);
  label(g, cfg.id + '-legend-label', 'gene count', cfg.legendX + 29, 1385, 21.5, {fill: '#222'});
}
label(document.getElementById('panelD'), 'panel-letter-d', 'D', 7, 1406, 33, {weight: 'bold'});
drawBarPanel({id: 'kegg-up', terms: keggUpTerms, values: keggUpValues, counts: keggUpCounts, color: '#ff6347', zero: 626.4, perUnit: 31.3, perCount: 5.38, frameX0: 616, frameX1: 844.7, labelX: 599, titleX: 609, side: 'up\u2212regulated', sideX: 134.4, legendX: 676});
drawBarPanel({id: 'kegg-down', terms: keggDownTerms, values: keggDownValues, counts: keggDownCounts, color: '#1e90ff', zero: 1451.8, perUnit: 33.3, perCount: 5.78, frameX0: 1442.4, frameX1: 1651.8, labelX: 1424.7, titleX: 1433.5, side: 'down\u2212regulated', sideX: 926, legendX: 1487.6});

/* ---------- Panel F ---------- */
(function () {
  const g = document.getElementById('panelF');
  label(g, 'panel-letter-f', 'F', 443, 1987, 33, {weight: 'bold'});
  const lowY = v => 2398 - 2.806 * v;
  const topY = v => 2043.3 - (v - 300) * 0.3295;
  const LOW_TOP = 2148, TOP_BASE = 2106;
  const tickX = i => 628 + i * 45.62;
  const BLUE = '#377eb8', RED = '#e41a1c';
  function drawBar(i, value, err, x, color, series) {
    const w = 18;
    const yLow = Math.max(lowY(value), LOW_TOP);
    make('rect', {x: x, y: yLow, width: w, height: 2398 - yLow, fill: color}, 'enzyme-bar-' + series, g);
    if (value >= 110) {
      make('rect', {x: x, y: topY(value), width: w, height: TOP_BASE - topY(value), fill: color}, 'enzyme-bar-upper-' + series, g);
      line(g, 'enzyme-error-bar', x + w / 2, topY(value + err), x + w / 2, topY(value - err), '#000', 1.3);
      line(g, 'enzyme-error-cap', x + w / 2 - 2.5, topY(value + err), x + w / 2 + 2.5, topY(value + err), '#000', 1.3);
      line(g, 'enzyme-error-cap', x + w / 2 - 2.5, topY(value - err), x + w / 2 + 2.5, topY(value - err), '#000', 1.3);
    } else {
      line(g, 'enzyme-error-bar', x + w / 2, lowY(value + err), x + w / 2, lowY(value - err), '#000', 1.3);
      line(g, 'enzyme-error-cap', x + w / 2 - 2.5, lowY(value + err), x + w / 2 + 2.5, lowY(value + err), '#000', 1.3);
      line(g, 'enzyme-error-cap', x + w / 2 - 2.5, lowY(value - err), x + w / 2 + 2.5, lowY(value - err), '#000', 1.3);
    }
  }
  enzymeGenes.forEach((gene, i) => {
    drawBar(i, enzymeMcf7[i], enzymeMcf7Err[i], tickX(i) - 18.2, BLUE, 'mcf7');
    drawBar(i, enzymeDr[i], enzymeDrErr[i], tickX(i) + 0.2, RED, 'mcf7-dr');
    line(g, 'enzyme-x-tick', tickX(i), 2409.5, tickX(i), 2418, '#555', 1.3);
    const t = label(g, 'enzyme-gene-label', gene, tickX(i) + enzymeLabelNudge[i], 2436, 25, {anchor: 'end', fill: classColors[enzymeClass[i]], rotate: -38});
    t.setAttribute('data-class', classNames[enzymeClass[i]]);
    const sOff = enzymeStars[i].length === 1 ? 4 : (enzymeStars[i].length === 2 ? 6.5 : 5);
    label(g, 'significance-stars', enzymeStars[i], tickX(i) + sOff, 1999, 26, {anchor: 'middle', v: 0});
  });
  make('rect', {x: 601.3, y: 1972.8, width: 829.7, height: 133.2, fill: 'none', stroke: '#666', 'stroke-width': 1.2}, 'upper-frame', g);
  line(g, 'upper-frame-top', 601.3, 1972.8, 1431, 1972.8, '#777', 2.4);
  line(g, 'upper-frame-bottom', 601.3, 2106, 1431, 2106, '#777', 2.6);
  make('rect', {x: 601.3, y: 2148, width: 829.7, height: 261.5, fill: 'none', stroke: '#666', 'stroke-width': 1.2}, 'lower-frame', g);
  line(g, 'lower-frame-top', 601.3, 2148, 1431, 2148, '#777', 2.2);
  enzymeLowerTicks.forEach(t => {
    line(g, 'lower-y-tick', 592, lowY(t), 601.3, lowY(t), '#555', 1.3);
    label(g, 'lower-y-tick-label', String(t), 586, lowY(t) + 1, 25, {anchor: 'end'});
  });
  enzymeUpperTicks.forEach(t => {
    line(g, 'upper-y-tick', 592, topY(t), 601.3, topY(t), '#555', 1.3);
    label(g, 'upper-y-tick-label', String(t), 586, topY(t) + 3.5, 25, {anchor: 'end'});
  });
  label(g, 'y-axis-title-expression', 'mRNA expression (FPKM)', 517.4, 2192, 26, {anchor: 'middle', rotate: -90});
  make('rect', {x: 1264, y: 2013, width: 17.5, height: 23, fill: BLUE}, 'legend-swatch-mcf7', g);
  make('rect', {x: 1264, y: 2043, width: 17.5, height: 23, fill: RED}, 'legend-swatch-mcf7-dr', g);
  label(g, 'legend-label-mcf7', 'MCF7', 1300, 2025.4, 22.3);
  label(g, 'legend-label-mcf7-dr', 'MCF7\u2212DR', 1300, 2056, 22.3);
  classNames.forEach((n, i) => {
    label(g, 'enzyme-class-legend-' + n.toLowerCase(), n, 1445, 2120.8 + i * 25.8, 25, {fill: classColors[i]});
  });
})();
</script>
</body>
</html>
